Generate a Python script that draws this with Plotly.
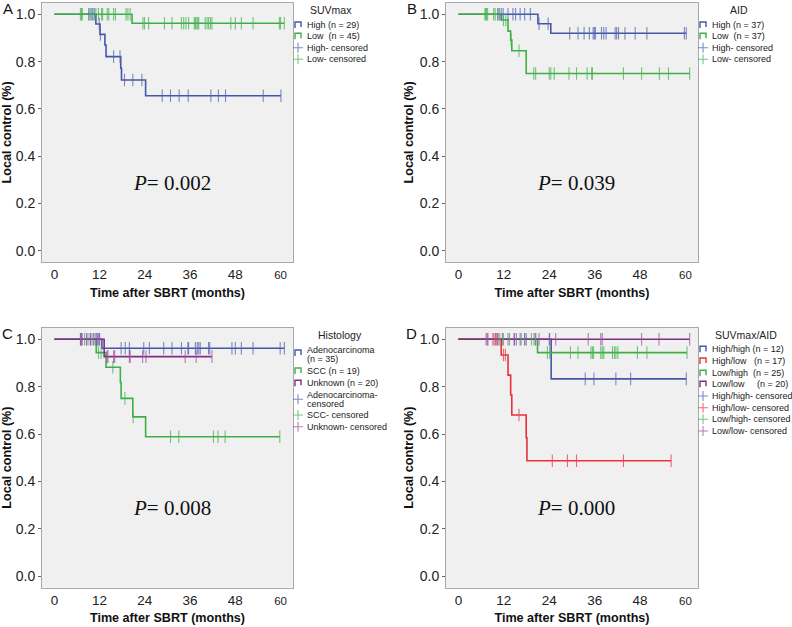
import plotly.graph_objects as go

# ---------------- data ----------------
# Panel A: SUVmax
A_high_event_t = [11.0, 12.1, 13.4, 13.7, 17.6, 17.8, 24.2]
A_high_surv = [0.959, 0.915, 0.870, 0.821, 0.772, 0.722, 0.656]
A_high_cens = [9.1, 9.7, 10.2, 10.6, 11.9, 12.2, 15.7, 17.4, 18.6, 20.8, 23.2, 28.6,
               30.8, 33.1, 35.5, 41.5, 43.5, 45.4, 55.4, 60.1]
A_low_event_t = [20.6]
A_low_surv = [0.962]
A_low_cens = [6.9, 7.2, 7.4, 9.4, 10.0, 11.0, 11.7, 12.5, 12.8, 14.0, 14.4, 15.7, 16.2,
              19.0, 19.5, 20.1, 23.5, 23.9, 25.0, 29.2, 31.2, 33.7, 34.3, 34.9, 35.6,
              37.1, 37.4, 37.6, 38.0, 38.3, 40.0, 40.5, 40.9, 41.4, 41.8, 46.8, 48.0,
              49.6, 52.7, 59.7, 60.0, 61.0]

# Panel B: AID
B_high_event_t = [21.0, 24.4]
B_high_surv = [0.960, 0.920]
B_high_cens = [10.4, 10.8, 11.3, 11.8, 13.1, 14.4, 15.1, 16.3, 17.5, 19.0, 21.3, 23.7,
               29.4, 31.6, 33.2, 34.6, 35.6, 35.9, 36.2, 37.8, 38.4, 39.0, 41.4, 41.8,
               42.3, 44.0, 46.7, 49.8, 59.7, 60.2]
B_low_event_t = [11.3, 13.1, 13.8, 14.1, 17.9]
B_low_surv = [0.976, 0.929, 0.891, 0.846, 0.750]
B_low_cens = [7.0, 7.2, 7.4, 7.7, 9.3, 9.7, 10.4, 11.9, 12.5, 13.9, 16.0, 19.9, 20.4,
              24.0, 24.4, 25.3, 29.2, 31.2, 34.0, 35.2, 35.4, 43.6, 48.4, 53.1, 55.5, 61.1]

# Panel C: Histology
C_adeno_event_t = [12.6]
C_adeno_surv = [0.962]
C_adeno_cens = [7.0, 7.3, 8.5, 9.6, 10.8, 11.3, 11.6, 12.0, 17.7, 18.8, 19.9, 23.7, 25.2,
                29.0, 31.2, 33.7, 35.4, 35.6, 37.4, 37.9, 38.3, 38.7, 40.9, 41.2, 47.1,
                48.0, 49.6, 52.7, 59.9, 61.0]
C_scc_event_t = [11.1, 13.7, 17.5, 17.7, 20.8, 24.2]
C_scc_surv = [0.944, 0.882, 0.818, 0.751, 0.673, 0.589]
C_scc_cens = [8.0, 10.0, 11.7, 12.4, 15.5, 18.7, 20.9, 30.8, 33.0, 42.2, 43.4, 45.3, 59.8]
C_unk_event_t = [13.2]
C_unk_surv = [0.927]
C_unk_cens = [6.9, 7.1, 7.3, 8.9, 9.5, 10.4, 11.3, 11.9, 14.0, 14.2, 15.7, 16.0, 19.9,
              20.1, 23.4, 24.3, 34.7, 37.6, 41.8]

# Panel D: SUVmax/AID
D_hh_event_t = [24.5]
D_hh_surv = [0.833]
D_hh_cens = [10.4, 14.8, 16.3, 17.9, 20.4, 24.0, 33.5, 35.8, 41.6, 45.5, 60.2]
D_hl_event_t = [11.3, 13.1, 13.8, 14.1, 17.9, 18.1]
D_hl_surv = [0.934, 0.849, 0.765, 0.681, 0.585, 0.488]
D_hl_cens = [9.1, 9.8, 10.4, 11.9, 12.4, 16.0, 24.8, 28.8, 31.2, 43.6, 56.2]
D_lh_event_t = [20.9]
D_lh_surv = [0.944]
D_lh_cens = [10.9, 11.9, 13.5, 16.6, 17.5, 19.3, 20.4, 23.5, 24.1, 29.6, 31.6, 35.0,
             35.4, 35.7, 37.6, 38.0, 38.4, 40.7, 41.2, 41.6, 42.1, 47.3, 49.8, 60.4]
D_ll_event_t = []
D_ll_surv = []
D_ll_cens = [7.3, 7.6, 7.8, 9.4, 10.0, 11.6, 13.1, 14.7, 15.3, 17.5, 20.0, 21.3, 24.1,
             25.7, 34.3, 37.6, 38.0, 48.4, 53.0, 61.1]

x_ticks = [0, 12, 24, 36, 48, 60]
y_ticks = [0.0, 0.2, 0.4, 0.6, 0.8, 1.0]
panel_letters = ["A", "B", "C", "D"]
p_values = ["0.002", "0.039", "0.008", "0.000"]
legend_titles = ["SUVmax", "AID", "Histology", "SUVmax/AID"]

# ---------------- styling ----------------
BLUE, BLUE_C = "#4457a6", "rgba(80,100,180,0.75)"
GREEN, GREEN_C = "#3fae48", "rgba(70,180,80,0.75)"
PURPLE, PURPLE_C = "#7e2f84", "rgba(160,80,160,0.75)"
RED, RED_C = "#e8303a", "rgba(235,70,80,0.8)"

FW, FH = 792, 627
FONT = "Liberation Sans, Arial, sans-serif"

# frames in page pixels: (left, right, top, bottom)
frames = [(42, 293, 2.7, 262), (446, 698, 2.7, 262),
          (42, 293, 327.7, 587.5), (446, 698, 327.7, 587.5)]
XR = [-3.29, 63.3]
YR = [-0.047, 1.049]

panels = [
    [("High (n = 29)", "High- censored", A_high_event_t, A_high_surv, A_high_cens, BLUE, BLUE_C),
     ("Low  (n = 45)", "Low- censored", A_low_event_t, A_low_surv, A_low_cens, GREEN, GREEN_C)],
    [("High (n = 37)", "High- censored", B_high_event_t, B_high_surv, B_high_cens, BLUE, BLUE_C),
     ("Low  (n = 37)", "Low- censored", B_low_event_t, B_low_surv, B_low_cens, GREEN, GREEN_C)],
    [("Adenocarcinoma<br>(n = 35)", "Adenocarcinoma-<br>censored", C_adeno_event_t, C_adeno_surv, C_adeno_cens, BLUE, BLUE_C),
     ("SCC (n = 19)", "SCC- censored", C_scc_event_t, C_scc_surv, C_scc_cens, GREEN, GREEN_C),
     ("Unknown (n = 20)", "Unknown- censored", C_unk_event_t, C_unk_surv, C_unk_cens, PURPLE, PURPLE_C)],
    [("High/high (n = 12)", "High/high- censored", D_hh_event_t, D_hh_surv, D_hh_cens, BLUE, BLUE_C),
     ("High/low   (n = 17)", "High/low- censored", D_hl_event_t, D_hl_surv, D_hl_cens, RED, RED_C),
     ("Low/high  (n = 25)", "Low/high- censored", D_lh_event_t, D_lh_surv, D_lh_cens, GREEN, GREEN_C),
     ("Low/low     (n = 20)", "Low/low- censored", D_ll_event_t, D_ll_surv, D_ll_cens, PURPLE, PURPLE_C)],
]

# legend line y positions (page px, relative to frame top) for each text line
legend_line_y = [
    [22.3, 33.6, 45.0, 56.6],
    [22.3, 33.6, 45.0, 56.6],
    [22.3, 30.8, 43.3, 55.6, 67.3, 75.8, 87.3, 99.0],
    [21.6, 33.3, 45.6, 56.6, 68.3, 80.0, 91.6, 103.3],
]
legend_title_dx = [38, 41, 47, 48]


def surv_at(t, ev_t, ev_s):
    s = 1.0
    for et, es in zip(ev_t, ev_s):
        if et <= t:
            s = es
    return s


def pxx(x):
    return x / FW


def pyy(y):
    return 1 - y / FH


fig = go.Figure()
layout = dict(
    width=FW, height=FH, margin=dict(l=0, r=0, t=0, b=0),
    paper_bgcolor="white", plot_bgcolor="#f0f0f0", showlegend=False,
    font=dict(family=FONT, color="#222"),
)
annotations = []
shapes = []

for i, (frame, series) in enumerate(zip(frames, panels)):
    idx = "" if i == 0 else str(i + 1)
    xa, ya = "x" + idx, "y" + idx
    l, r, t, b = frame
    layout["xaxis" + idx] = dict(
        domain=[pxx(l), pxx(r)], range=XR, anchor=ya, tickvals=x_ticks,
        ticktext=[str(v) for v in x_ticks[:-1]] + ["<span style='font-size:11.5px'>60</span>"],
        showgrid=False, zeroline=False, showline=True, mirror=True, linecolor="#a8a8a8",
        linewidth=1, ticks="", tickfont=dict(size=13.5, color="#222"), automargin=False,
        title=dict(text="<b>Time after SBRT (months)</b>", font=dict(size=12.6, color="#111"), standoff=6),
    )
    layout["yaxis" + idx] = dict(
        domain=[pyy(b), pyy(t)], range=YR, anchor=xa, tickvals=y_ticks, tickformat=".1f",
        showgrid=False, zeroline=False, showline=True, mirror=True, linecolor="#a8a8a8",
        linewidth=1, ticks="outside", ticklen=3, tickcolor="#666",
        tickfont=dict(size=14, color="#222"), automargin=False,
        title=dict(text="<b>Local control (%)</b>", font=dict(size=12.6, color="#111"), standoff=3),
    )

    for (name, cname, ev_t, ev_s, cens, col, ccol) in series:
        end_t = max(cens + ev_t)
        xs = [0] + list(ev_t) + [end_t]
        ys = [1.0] + list(ev_s) + [ev_s[-1] if ev_s else 1.0]
        fig.add_trace(go.Scatter(x=xs, y=ys, mode="lines", line=dict(color=col, width=1.6, shape="hv"),
                                 name=name.replace("<br>", " "), xaxis=xa, yaxis=ya, hoverinfo="skip"))
    for (name, cname, ev_t, ev_s, cens, col, ccol) in series:
        cy = [surv_at(c, ev_t, ev_s) for c in cens]
        fig.add_trace(go.Scatter(x=cens, y=cy, mode="markers",
                                 marker=dict(symbol="line-ns", size=9, line=dict(color=ccol, width=1.1)),
                                 name=cname.replace("<br>", " "), xaxis=xa, yaxis=ya, hoverinfo="skip"))

    # panel letter
    annotations.append(dict(text=panel_letters[i], x=pxx(l - 34.5), y=pyy(t + 6), xref="paper", yref="paper",
                            showarrow=False, xanchor="center", yanchor="middle",
                            font=dict(size=15, family=FONT, color="#111")))
    # P value
    annotations.append(dict(text="<i>P</i>= " + p_values[i], x=pxx(l + 130), y=pyy(t + 180),
                            xref="paper", yref="paper", showarrow=False, xanchor="center", yanchor="middle",
                            font=dict(size=21, family="Liberation Serif, Times New Roman, serif", color="#111")))

    # custom legend
    lx = r + 12  # text start
    ix = r + 2   # icon start
    annotations.append(dict(text=legend_titles[i], x=pxx(r + legend_title_dx[i]), y=pyy(t + 7.5),
                            xref="paper", yref="paper", showarrow=False, xanchor="center", yanchor="middle",
                            font=dict(size=10.5, family=FONT, color="#222")))
    items = [(s[0], s[5], "line") for s in series] + [(s[1], s[6], "cens") for s in series]
    ly = legend_line_y[i]
    k = 0
    for text, col, kind in items:
        lines = text.split("<br>")
        ys_item = []
        for ln in lines:
            yv = t + ly[k]
            ys_item.append(yv)
            annotations.append(dict(text=ln, x=pxx(lx), y=pyy(yv), xref="paper", yref="paper",
                                    showarrow=False, xanchor="left", yanchor="middle", align="left",
                                    font=dict(size=9, family=FONT, color="#222")))
            k += 1
        iy = sum(ys_item) / len(ys_item) if kind == "cens" else ys_item[0] + (3 if len(lines) > 1 else 0)
        if kind == "line":
            path = "M {} {} L {} {} L {} {} L {} {}".format(
                pxx(ix), pyy(iy + 3), pxx(ix), pyy(iy - 3), pxx(ix + 6), pyy(iy - 3), pxx(ix + 6), pyy(iy + 2))
            shapes.append(dict(type="path", path=path, xref="paper", yref="paper",
                               line=dict(color=col, width=1.4)))
        else:
            path = "M {} {} L {} {} M {} {} L {} {}".format(
                pxx(ix + 3), pyy(iy - 5), pxx(ix + 3), pyy(iy + 5), pxx(ix - 2), pyy(iy), pxx(ix + 8), pyy(iy))
            shapes.append(dict(type="path", path=path, xref="paper", yref="paper",
                               line=dict(color=col, width=1.1)))

layout["annotations"] = annotations
layout["shapes"] = shapes
fig.update_layout(**layout)
# remove the default 8px page margin so the 792x627 figure fills the window exactly
fig.write_html("out.html", config={"displayModeBar": False},
               post_script="document.body.style.margin='0px';")
